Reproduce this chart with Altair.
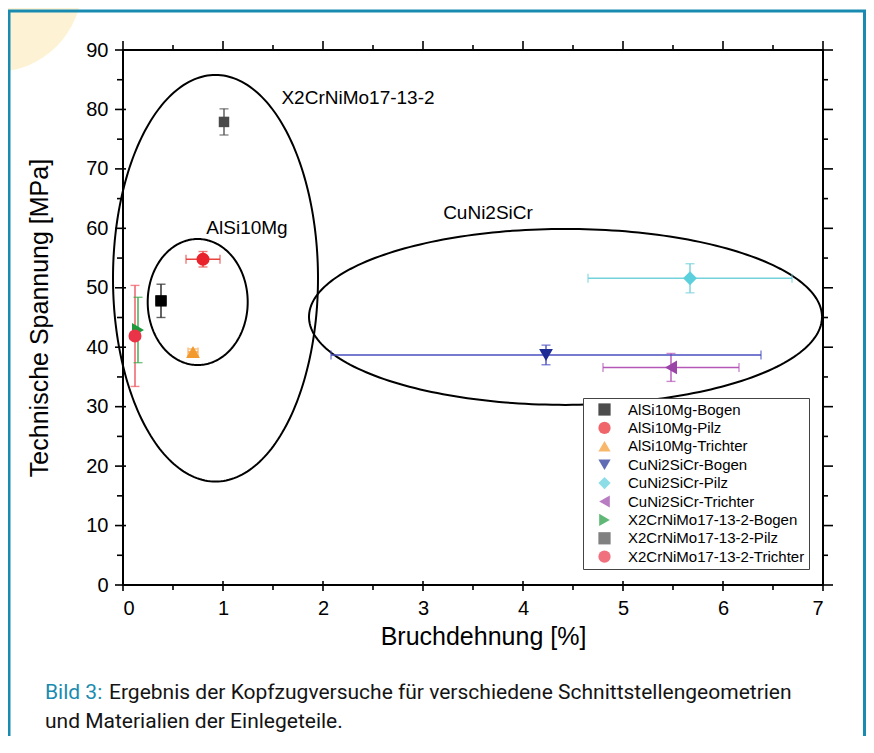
import altair as alt
import numpy as np
import pandas as pd

# ---------------- data ----------------
series = [
    "AlSi10Mg-Bogen", "AlSi10Mg-Pilz", "AlSi10Mg-Trichter",
    "CuNi2SiCr-Bogen", "CuNi2SiCr-Pilz", "CuNi2SiCr-Trichter",
    "X2CrNiMo17-13-2-Bogen", "X2CrNiMo17-13-2-Pilz", "X2CrNiMo17-13-2-Trichter",
]
bruchdehnung = [0.38, 0.80, 0.70, 4.23, 5.67, 5.48, 0.15, 1.01, 0.12]
spannung = [47.8, 54.8, 39.2, 38.7, 51.6, 36.6, 42.9, 77.9, 41.9]
bruchdehnung_err = [0.05, 0.17, 0.05, 2.15, 1.02, 0.68, 0.0, 0.0, 0.0]
spannung_err = [2.8, 1.3, 0.5, 1.65, 2.45, 2.35, 5.5, 2.2, 8.5]
marker_colors = ["#000000", "#e8232b", "#f39a2e", "#1e2d96", "#5ccfdc",
                 "#9a44a8", "#1c9a3c", "#4a4a4a", "#ea3347"]
error_colors = ["#222222", "#e8433f", "#f3a24a", "#4a4fc0", "#74d2dc",
                "#b458b8", "#3aaa4a", "#555555", "#ee5560"]
marker_shapes = ["square", "circle", "triangle-up", "triangle-down", "diamond",
                 "triangle-left", "triangle-right", "square", "circle"]
marker_sizes = [130, 170, 190, 190, 190, 190, 190, 110, 170]

groups = ["X2CrNiMo17-13-2", "AlSi10Mg", "CuNi2SiCr"]
group_cx = [0.925, 0.747, 4.425]
group_cy = [51.6, 47.6, 45.1]
group_rx = [1.025, 0.50, 2.565]
group_ry = [34.2, 10.6, 14.8]
label_x = [2.35, 1.24, 3.65]
label_y = [81.9, 60.1, 62.6]

x_major = [0, 1, 2, 3, 4, 5, 6, 7]
x_minor = [0.5, 1.5, 2.5, 3.5, 4.5, 5.5, 6.5]
y_major = [0, 10, 20, 30, 40, 50, 60, 70, 80, 90]
y_minor = [5, 15, 25, 35, 45, 55, 65, 75, 85]

caption_lead = "Bild 3:"
caption_line1 = "Ergebnis der Kopfzugversuche für verschiedene Schnittstellengeometrien"
caption_line2 = "und Materialien der Einlegeteile."

# ---------------- tables ----------------
pts = pd.DataFrame({
    "series": series, "x": bruchdehnung, "y": spannung,
    "xerr": bruchdehnung_err, "yerr": spannung_err, "ecol": error_colors,
    "msize": marker_sizes,
})
pts["xlo"] = pts.x - pts.xerr
pts["xhi"] = pts.x + pts.xerr
pts["ylo"] = pts.y - pts.yerr
pts["yhi"] = pts.y + pts.yerr
vbars = pts[pts.yerr > 0]
hbars = pts[pts.xerr > 0]
vcaps = pd.concat([vbars.assign(cy=vbars.ylo), vbars.assign(cy=vbars.yhi)])
hcaps = pd.concat([hbars.assign(cx=hbars.xlo), hbars.assign(cx=hbars.xhi)])

rows = []
t = np.linspace(0, 2 * np.pi, 241)
for g, cx, cy, rx, ry in zip(groups, group_cx, group_cy, group_rx, group_ry):
    for i, a in enumerate(t):
        rows.append({"g": g, "o": i, "ex": cx + rx * np.cos(a), "ey": cy + ry * np.sin(a)})
ell = pd.DataFrame(rows)
labels = pd.DataFrame({"g": groups, "lx": label_x, "ly": label_y})

W, H = 700, 535
FONT = "Liberation Sans"
xs = alt.Scale(domain=[0, 7], nice=False, zero=False)
ys = alt.Scale(domain=[0, 90], nice=False, zero=False)
xaxis = alt.Axis(values=x_major, ticks=False, domain=False, grid=False,
                 labelFontSize=20, labelFont=FONT, labelColor="black", labelPadding=13,
                 title="Bruchdehnung [%]", titleFont=FONT, titleFontSize=25,
                 titleFontWeight="normal", titleColor="black", titlePadding=6,
                 titleX=360)
yaxis = alt.Axis(values=y_major, ticks=False, domain=False, grid=False,
                 labelFontSize=20, labelFont=FONT, labelColor="black", labelPadding=15,
                 title="Technische Spannung [MPa]", titleFont=FONT, titleFontSize=25,
                 titleFontWeight="normal", titleColor="black", titlePadding=33)


def X(f):
    return alt.X(f, type="quantitative", scale=xs, axis=xaxis)


def Y(f):
    return alt.Y(f, type="quantitative", scale=ys, axis=yaxis)


one = pd.DataFrame({"a": [0]})

# decorations (page frame)
TEAL = "#1a8bb0"
sun = alt.Chart(one).mark_point(filled=True, color="#fdf3d4", opacity=1, size=30276,
                                 shape="circle", strokeWidth=0).encode(
    x=alt.value(-128), y=alt.value(-65))
frame_top = alt.Chart(one).mark_rule(color=TEAL, strokeWidth=3).encode(
    x=alt.value(-115), x2=alt.value(743), y=alt.value(-39))
frame_left = alt.Chart(one).mark_rule(color=TEAL, strokeWidth=3).encode(
    x=alt.value(-114), y=alt.value(-40), y2=alt.value(700))
frame_right = alt.Chart(one).mark_rule(color=TEAL, strokeWidth=3).encode(
    x=alt.value(741.5), y=alt.value(-40), y2=alt.value(700))

box = alt.Chart(one).mark_rect(fill=None, stroke="black", strokeWidth=2).encode(
    x=alt.value(0), x2=alt.value(W), y=alt.value(0), y2=alt.value(H))

dxM = pd.DataFrame({"v": x_major})
dxm = pd.DataFrame({"v": x_minor})
dyM = pd.DataFrame({"v": y_major})
dym = pd.DataFrame({"v": y_minor})
tk = dict(color="black", strokeWidth=1.6)
ticks = [
    alt.Chart(dxM).mark_rule(**tk).encode(x=X("v"), y=alt.value(H - 4), y2=alt.value(H + 6)),
    alt.Chart(dxm).mark_rule(**tk).encode(x=X("v"), y=alt.value(H), y2=alt.value(H + 5)),
    alt.Chart(dxM).mark_rule(**tk).encode(x=X("v"), y=alt.value(-9), y2=alt.value(0)),
    alt.Chart(dxm).mark_rule(**tk).encode(x=X("v"), y=alt.value(-5), y2=alt.value(0)),
    alt.Chart(dyM).mark_rule(**tk).encode(y=Y("v"), x=alt.value(-8), x2=alt.value(3)),
    alt.Chart(dym).mark_rule(**tk).encode(y=Y("v"), x=alt.value(-6), x2=alt.value(0)),
    alt.Chart(dyM).mark_rule(**tk).encode(y=Y("v"), x=alt.value(W), x2=alt.value(W + 10)),
    alt.Chart(dym).mark_rule(**tk).encode(y=Y("v"), x=alt.value(W), x2=alt.value(W + 5)),
]

ellipses = alt.Chart(ell).mark_line(color="black", strokeWidth=2).encode(
    x=X("ex"), y=Y("ey"), detail="g:N", order="o:Q")

ecol = alt.Color("ecol:N", scale=None)
vrule = alt.Chart(vbars).mark_rule(strokeWidth=1.4).encode(x=X("x"), y=Y("ylo"), y2="yhi", color=ecol)
hrule = alt.Chart(hbars).mark_rule(strokeWidth=1.4).encode(y=Y("y"), x=X("xlo"), x2="xhi", color=ecol)
vcap = alt.Chart(vcaps).mark_tick(orient="horizontal", size=9, thickness=1.4).encode(
    x=X("x"), y=Y("cy"), color=ecol)
hcap = alt.Chart(hcaps).mark_tick(orient="vertical", size=9, thickness=1.4).encode(
    x=X("cx"), y=Y("y"), color=ecol)

leg = alt.Legend(title=None, orient="none", legendX=460, legendY=348, padding=4,
                 symbolOffset=10, labelOffset=16, rowPadding=2.4, labelFontSize=15,
                 labelFont=FONT, labelColor="black", labelLimit=300, strokeColor="#444",
                 fillColor="white", symbolSize=150, symbolStrokeWidth=0, symbolOpacity=1)
points = alt.Chart(pts).mark_point(filled=True, opacity=1, strokeWidth=0).encode(
    x=X("x"), y=Y("y"),
    size=alt.Size("msize:Q", scale=None),
    color=alt.Color("series:N", scale=alt.Scale(domain=series, range=marker_colors), legend=leg),
    shape=alt.Shape("series:N", scale=alt.Scale(domain=series, range=marker_shapes), legend=leg),
)

group_text = alt.Chart(labels).mark_text(font=FONT, fontSize=19, color="black").encode(
    x=X("lx"), y=Y("ly"), text="g:N")

cap_kw = dict(font="Roboto", fontSize=21, fontWeight="normal", align="left", baseline="middle")
cap1a = alt.Chart(one).mark_text(color=TEAL, text=caption_lead, **cap_kw).encode(
    x=alt.value(-78), y=alt.value(643))
cap1b = alt.Chart(one).mark_text(color="#141414", text=caption_line1, **cap_kw).encode(
    x=alt.value(-14), y=alt.value(643))
cap2 = alt.Chart(one).mark_text(color="#141414", text=caption_line2, **cap_kw).encode(
    x=alt.value(-78), y=alt.value(672))

chart = alt.layer(
    sun, frame_top, frame_left, frame_right, box, *ticks, ellipses,
    vrule, hrule, vcap, hcap, points, group_text, cap1a, cap1b, cap2,
).properties(
    width=W, height=H,
    padding={"left": 115, "top": 42, "right": 43, "bottom": 151},
    autosize=alt.AutoSizeParams(type="none"),
    background="white",
).configure_view(stroke=None)

chart.save("out.html", embed_options={"renderer": "svg", "actions": False})
